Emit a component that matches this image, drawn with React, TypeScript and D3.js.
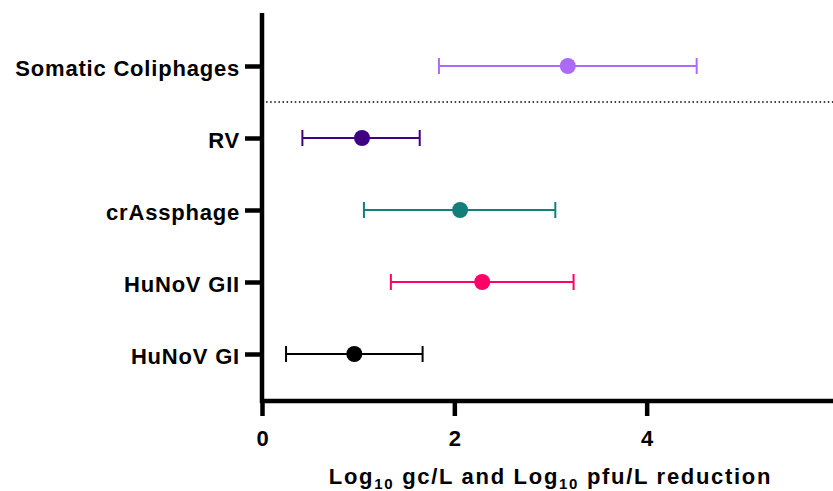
import React, { useEffect, useRef } from "react";
import * as d3 from "d3";

// categories, bottom to top
const categories = ["HuNoV GI", "HuNoV GII", "crAssphage", "RV", "Somatic Coliphages"];
const means = [0.96, 2.29, 2.06, 1.04, 3.18];
const lows = [0.25, 1.34, 1.06, 0.42, 1.84];
const highs = [1.67, 3.24, 3.05, 1.64, 4.52];
const colors = ["#000000", "#FF0066", "#147F7A", "#3F0082", "#AB6BF7"];
const xTicks = [0, 2, 4];

const width = 833;
const height = 491;

const App = () => {
    const ref = useRef<SVGGElement>(null);

    useEffect(() => {
        document.body.style.margin = "0";

        const x = d3.scaleLinear().domain([0, 6]).range([262, 839]);
        const y = d3.scalePoint<string>().domain(categories).range([354, 66]);

        const svg = d3.select(ref.current);
        svg.selectAll("*").remove();

        const font = "'Liberation Sans', Arial, sans-serif";

        // dotted separator between coliphages and the rest
        const sepY = ((y("Somatic Coliphages") as number) + (y("RV") as number)) / 2;
        svg.append("line")
            .attr("x1", x(0))
            .attr("x2", width)
            .attr("y1", sepY)
            .attr("y2", sepY)
            .attr("stroke", "#000")
            .attr("stroke-width", 1.5)
            .attr("stroke-dasharray", "1.5 2.6");

        // x axis
        const xAxis = svg.append("g")
            .attr("transform", "translate(0,401)")
            .call(d3.axisBottom(x).tickValues(xTicks).tickSize(15).tickPadding(14).tickFormat(d3.format("d")));
        xAxis.select(".domain").attr("stroke-width", 4.5).attr("d", `M${x(0) - 2},0H${width + 5}`);
        xAxis.selectAll(".tick line").attr("stroke-width", 4.5);
        xAxis.selectAll(".tick text")
            .attr("font-family", font)
            .attr("font-weight", "bold")
            .attr("font-size", 22)
            .attr("fill", "#000");

        // y axis
        const yAxis = svg.append("g")
            .attr("transform", `translate(${x(0)},0)`)
            .call(d3.axisLeft(y).tickSize(17).tickPadding(5));
        yAxis.select(".domain").attr("stroke-width", 4.5).attr("d", "M0,13V403");
        yAxis.selectAll(".tick line").attr("stroke-width", 4.5);
        yAxis.selectAll(".tick text")
            .attr("font-family", font)
            .attr("font-weight", "bold")
            .attr("font-size", 22)
            .attr("letter-spacing", 0.8)
            .attr("dy", "0.45em")
            .attr("fill", "#000");

        // error bars
        const rows = categories.map((c, i) => ({ c, m: means[i], lo: lows[i], hi: highs[i], col: colors[i] }));
        const g = svg.selectAll("g.row")
            .data(rows)
            .enter()
            .append("g")
            .attr("class", "row")
            .attr("transform", d => `translate(0,${y(d.c)})`);

        g.append("line")
            .attr("x1", d => x(d.lo))
            .attr("x2", d => x(d.hi))
            .attr("stroke", d => d.col)
            .attr("stroke-width", 2);
        g.append("line")
            .attr("x1", d => x(d.lo))
            .attr("x2", d => x(d.lo))
            .attr("y1", -8)
            .attr("y2", 8)
            .attr("stroke", d => d.col)
            .attr("stroke-width", 2);
        g.append("line")
            .attr("x1", d => x(d.hi))
            .attr("x2", d => x(d.hi))
            .attr("y1", -8)
            .attr("y2", 8)
            .attr("stroke", d => d.col)
            .attr("stroke-width", 2);
        g.append("circle")
            .attr("cx", d => x(d.m))
            .attr("r", 8)
            .attr("fill", d => d.col);

        // axis title
        const title = svg.append("text")
            .attr("x", (x(0) + x(6)) / 2)
            .attr("y", 484)
            .attr("text-anchor", "middle")
            .attr("font-family", font)
            .attr("font-weight", "bold")
            .attr("font-size", 22)
            .attr("letter-spacing", 1.7)
            .attr("fill", "#000");
        title.append("tspan").text("Log");
        title.append("tspan").attr("font-size", 15).attr("dy", 5).text("10");
        title.append("tspan").attr("dy", -5).text(" gc/L and Log");
        title.append("tspan").attr("font-size", 15).attr("dy", 5).text("10");
        title.append("tspan").attr("dy", -5).text(" pfu/L reduction");
    }, []);

    return (
        <svg width={width} height={height} style={{ display: "block" }}>
            <rect width={width} height={height} fill="#fff" />
            <g ref={ref} />
        </svg>
    );
};

export default App;
